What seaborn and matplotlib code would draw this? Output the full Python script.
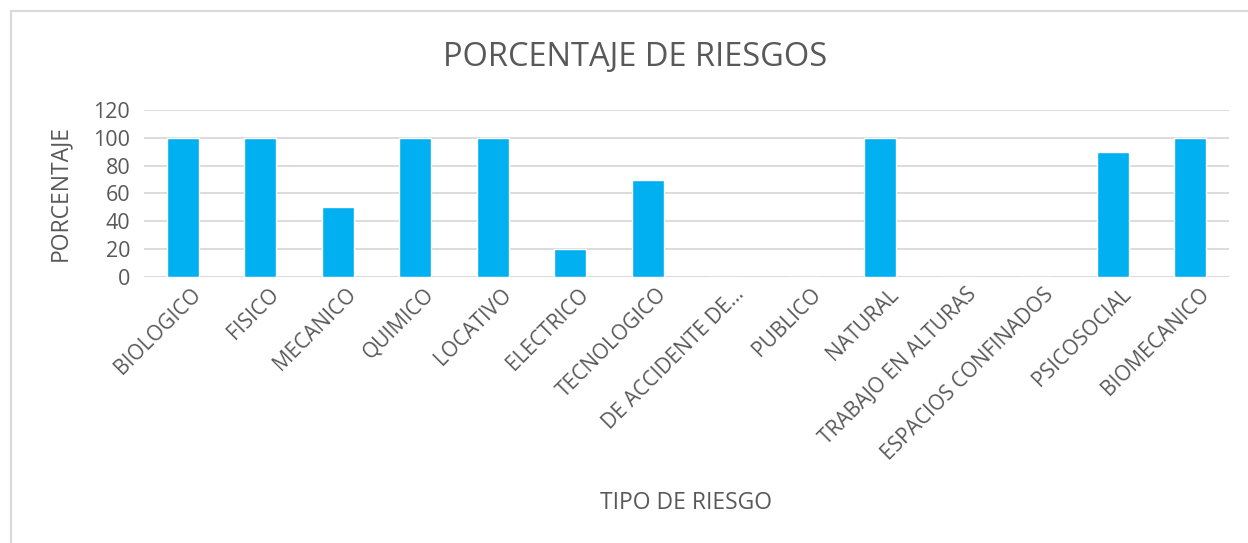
import matplotlib
matplotlib.use('Agg')

import matplotlib.pyplot as plt
import matplotlib.transforms as mtransforms
from matplotlib.patches import Rectangle
import seaborn as sns
import pandas as pd

categories = ["BIOLOGICO", "FISICO", "MECANICO", "QUIMICO", "LOCATIVO", "ELECTRICO",
              "TECNOLOGICO", "DE ACCIDENTE DE…", "PUBLICO", "NATURAL",
              "TRABAJO EN ALTURAS", "ESPACIOS CONFINADOS", "PSICOSOCIAL", "BIOMECANICO"]
porcentaje = [100, 100, 50, 100, 100, 20, 70, 0, 0, 100, 0, 0, 90, 100]
y_ticks = [0, 20, 40, 60, 80, 100, 120]

df = pd.DataFrame({"tipo": categories, "porcentaje": porcentaje})

sns.set_style("white")
plt.rcParams['font.family'] = ['Open Sans', 'DejaVu Sans']
text_color = "#595959"

fig = plt.figure(figsize=(12.48, 5.43), dpi=100)
ax = fig.add_axes([0.1154, 0.4899, 0.8694, 0.3076])

sns.barplot(data=df, x="tipo", y="porcentaje", color="#00B0F0", width=0.41,
            saturation=1, ax=ax, zorder=3)

ax.set_ylim(0, 120)
ax.set_yticks(y_ticks)
ax.set_xlim(-0.5, len(categories) - 0.5)
ax.yaxis.grid(True, color="#D9D9D9", linewidth=1.3, zorder=0)
ax.set_axisbelow(True)
for s in ax.spines.values():
    s.set_visible(False)
ax.axhline(0, color="#D9D9D9", linewidth=1.3, zorder=1)

ax.tick_params(axis="y", length=0, labelsize=15.5, labelcolor=text_color, pad=10)
ax.tick_params(axis="x", length=0, labelsize=15, labelcolor=text_color, pad=5)
shift = mtransforms.ScaledTranslation(8 / 100, 0, fig.dpi_scale_trans)
for lbl in ax.get_xticklabels():
    lbl.set_rotation(45)
    lbl.set_ha("right")
    lbl.set_rotation_mode("anchor")
    lbl.set_transform(lbl.get_transform() + shift)

ax.set_xlabel("")
ax.set_ylabel("PORCENTAJE", fontsize=16.5, color=text_color)
ax.yaxis.set_label_coords(-0.066, 0.5)

fig.text(686 / 1248, 1 - 503 / 543, "TIPO DE RIESGO", fontsize=16.5,
         color=text_color, ha="center", va="center")
fig.text(0.509, 0.895, "PORCENTAJE DE RIESGOS", fontsize=23.5, color=text_color,
         ha="center", va="center")

# chart frame (only left/top edges visible in the crop)
fig.patches.append(Rectangle((11 / 1248, -0.1), 1.2, 1.1 - 11 / 543,
                             transform=fig.transFigure, fill=False,
                             edgecolor="#D9D9D9", linewidth=1.5))

fig.savefig("out.png", dpi=100)
